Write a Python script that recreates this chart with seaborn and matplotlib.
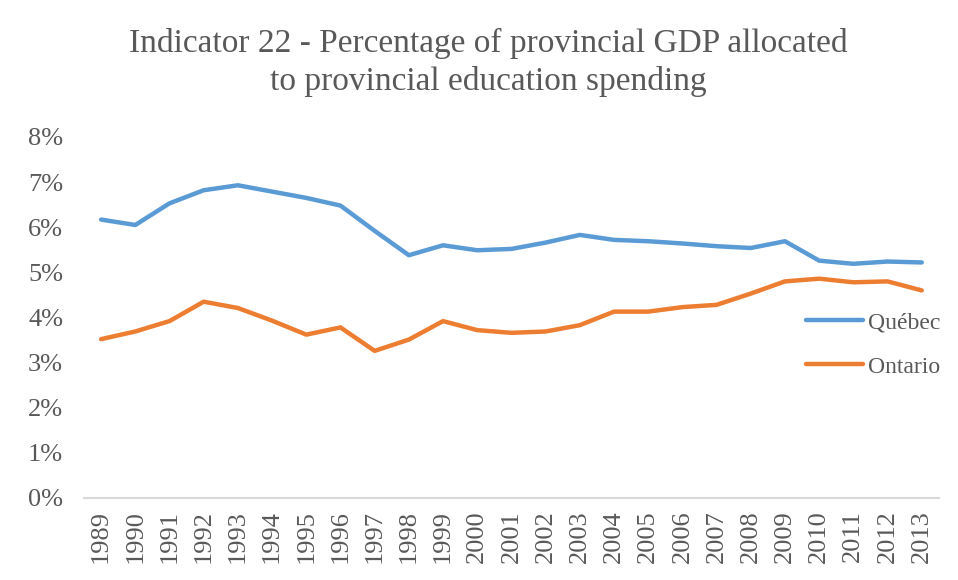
import pandas as pd
import numpy as np
import matplotlib.pyplot as plt
import seaborn as sns
from matplotlib.ticker import PercentFormatter

# Data
years = [str(y) for y in range(1989, 2014)]
quebec = [6.17, 6.05, 6.53, 6.82, 6.93, 6.79, 6.65, 6.48, 5.92, 5.38, 5.6,
          5.49, 5.52, 5.66, 5.83, 5.72, 5.69, 5.64, 5.58, 5.54, 5.69,
          5.26, 5.19, 5.24, 5.22]
ontario = [3.52, 3.69, 3.92, 4.35, 4.21, 3.93, 3.62, 3.78, 3.26, 3.51, 3.92,
           3.72, 3.66, 3.69, 3.83, 4.13, 4.13, 4.23, 4.28, 4.53, 4.8,
           4.86, 4.78, 4.8, 4.6]
series_names = ['Québec', 'Ontario']
colors = ['#5B9BD5', '#ED7D31']

data = pd.DataFrame({
    'Year': years * 2,
    'Value': quebec + ontario,
    'Province': [series_names[0]] * len(years) + [series_names[1]] * len(years),
})

sns.set_style('white')
plt.rcParams['font.family'] = ['Liberation Serif', 'DejaVu Serif']

fig = plt.figure(figsize=(9.58, 5.8), dpi=100)
ax = fig.add_axes([0.0877, 0.1414, 0.8923, 0.6224])

sns.lineplot(data=data, x='Year', y='Value', hue='Province',
             palette=colors, linewidth=3.2, ax=ax, sort=False)

ax.set_ylim(0, 8)
ax.set_xlim(-0.5, len(years) - 0.5)
ax.set_yticks(range(0, 9))
ax.yaxis.set_major_formatter(PercentFormatter(decimals=0))
ax.set_xlabel('')
ax.set_ylabel('')

for side in ['top', 'right', 'left']:
    ax.spines[side].set_visible(False)
ax.spines['bottom'].set_color('#D9D9D9')
ax.spines['bottom'].set_linewidth(1.5)

ax.tick_params(axis='y', labelsize=19, colors='#595959', length=0, pad=15)
ax.tick_params(axis='x', labelsize=19, colors='#595959', length=0, pad=9,
               rotation=90)

ax.legend(loc='center left', bbox_to_anchor=(0.82, 0.424), frameon=False,
          fontsize=17, handlelength=2.4, labelspacing=0.95, handletextpad=0.2,
          labelcolor='#595959')

fig.suptitle('Indicator 22 - Percentage of provincial GDP allocated\n'
             'to provincial education spending',
             x=0.51, y=0.952, fontsize=24, color='#595959', linespacing=1.28)

plt.savefig('out.png', dpi=100)
plt.close()
